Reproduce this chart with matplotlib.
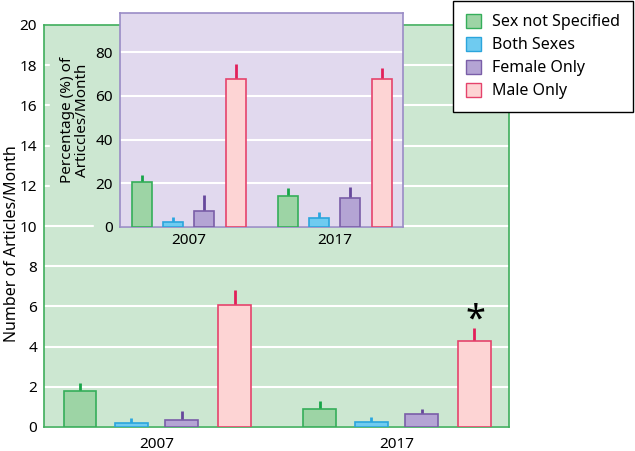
import matplotlib.pyplot as plt
from matplotlib.patches import Patch, Rectangle

plt.rcParams['font.family'] = ['Noto Sans', 'DejaVu Sans']

years = ['2007', '2017']
labels = ['Sex not Specified', 'Both Sexes', 'Female Only', 'Male Only']

# articles / month (main panel)
counts = [[1.78, 0.90], [0.20, 0.25], [0.35, 0.65], [6.07, 4.28]]
count_err = [[0.41, 0.40], [0.25, 0.25], [0.45, 0.25], [0.73, 0.65]]

# percentage of articles / month (inset)
pct = [[20.6, 14.2], [2.3, 4.3], [7.3, 13.5], [68.0, 67.9]]
pct_err = [[3.2, 3.7], [2.3, 2.6], [7.3, 4.7], [6.7, 5.1]]

faces = ['#9dd4a5', '#6fcbf0', '#b4a4d4', '#fdd4d4']
edges = ['#35ae5a', '#2ba5dc', '#7a5ea8', '#e5436c']
errc = ['#17a548', '#2aa6e0', '#66489c', '#e2205a']
offsets = [-0.32, -0.105, 0.105, 0.325]
width = 0.137
green_bg = '#cce7d1'
purple_bg = '#e1d9ee'
fs = 11

fig = plt.figure(figsize=(6.35, 4.51), dpi=100)


def draw(ax, vals, errs):
    for i in range(4):
        xs = [g + offsets[i] for g in range(len(years))]
        ax.errorbar(xs, vals[i], yerr=[[0] * len(years), errs[i]], fmt='none',
                    ecolor=errc[i], elinewidth=2, capsize=0, zorder=2)
        ax.bar(xs, vals[i], width, color=faces[i], edgecolor=edges[i],
               linewidth=1.2, zorder=3)
    ax.set_xlim(-0.47, 1.47)
    ax.set_xticks(range(len(years)))
    ax.set_xticklabels(years)
    ax.grid(axis='y', color='white', linewidth=1.5, zorder=0)
    ax.set_axisbelow(True)
    ax.tick_params(length=0, labelsize=fs)


# main panel
ax = fig.add_axes([44 / 635, 24 / 451, 465 / 635, 402 / 451])
ax.set_facecolor(green_bg)
draw(ax, counts, count_err)
ax.set_ylim(0, 20)
ax.set_yticks(range(0, 21, 2))
ax.tick_params(axis='y', pad=5)
ax.tick_params(axis='x', pad=7)
for s in ax.spines.values():
    s.set_color('#3fae5c')
    s.set_linewidth(1.2)
ax.set_ylabel('Number of Articles/Month', fontsize=11.5)
ax.yaxis.set_label_coords(-0.052, 0.455)
ax.text(1.33, 5.3, '*', fontsize=26, ha='center', va='center', zorder=4)
# inset label area hides main gridlines
ax.add_patch(Rectangle((-0.47 + 6 / 240, 10.4), 70 / 240, 9.6, color=green_bg, zorder=1))
ax.add_patch(Rectangle((-0.47 + 50 / 240, 9.5), 26 / 240, 1.0, color=green_bg, zorder=1))

# inset panel
ins = fig.add_axes([120 / 635, 224 / 451, 283 / 635, 214 / 451])
ins.set_facecolor(purple_bg)
draw(ins, pct, pct_err)
ins.set_ylim(0, 98)
ins.set_yticks(range(0, 81, 20))
ins.tick_params(axis='y', pad=5)
ins.tick_params(axis='x', pad=4)
for s in ins.spines.values():
    s.set_color('#9a8cc6')
    s.set_linewidth(1.2)
ins.set_ylabel('Percentage (%) of\nArticcles/Month', fontsize=fs, labelpad=4,
               linespacing=1.0)

handles = [Patch(facecolor=faces[i], edgecolor=edges[i]) for i in range(4)]
leg = fig.legend(handles, labels, loc='upper right',
                 bbox_to_anchor=(633 / 635, 450 / 451), fontsize=11.5,
                 handlelength=0.95, handleheight=0.95, handletextpad=0.7,
                 labelspacing=0.42, borderpad=0.8, borderaxespad=0,
                 fancybox=False, framealpha=1, edgecolor='black')
leg.get_frame().set_linewidth(1.0)

fig.savefig('out.png', dpi=100)
